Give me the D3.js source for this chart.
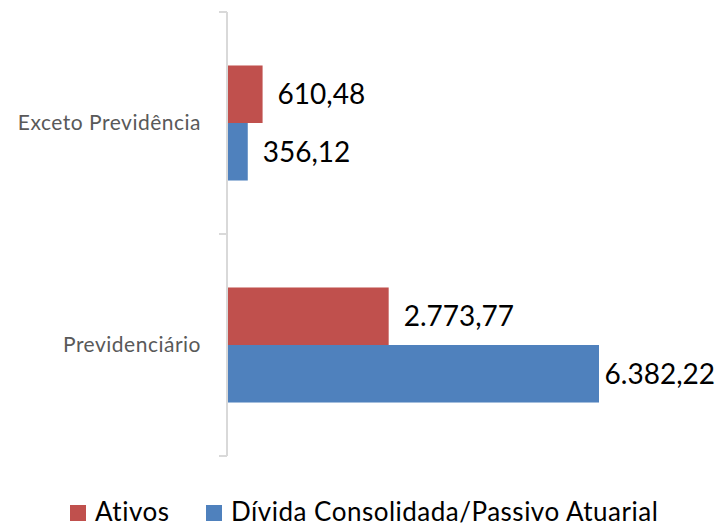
<!DOCTYPE html>
<html>
<head>
<meta charset="utf-8">
<script src="https://cdn.jsdelivr.net/npm/d3@7"></script>
<style>
  body { margin: 0; background: #fff; }
  text { font-family: Lato, "Open Sans", sans-serif; }
</style>
</head>
<body>
<script>
// categorias e séries
var categorias = ["Exceto Previdência", "Previdenciário"]
var series = ["Ativos", "Dívida Consolidada/Passivo Atuarial"]
var ativos = [610.48, 2773.77]
var divida = [356.12, 6382.22]
var rotulos = [["610,48", "356,12"], ["2.773,77", "6.382,22"]]
var cores = ["#C0504D", "#4F81BD"]

var width = 717
var height = 526

var svg = d3.select("body").append("svg")
  .attr("width", width)
  .attr("height", height)

// escalas
var x = d3.scaleLinear()
  .domain([0, 6382.22])
  .range([227, 599])

var y0 = d3.scaleBand()
  .domain(categorias)
  .range([12, 456])
  .padding(0)

var y1 = d3.scaleBand()
  .domain(series)
  .range([0, y0.bandwidth()])
  .paddingInner(0)
  .paddingOuter(0.93)

var cor = d3.scaleOrdinal().domain(series).range(cores)

var dados = categorias.map(function (c, i) {
  return {
    cat: c,
    valores: [
      { serie: series[0], v: ativos[i], rot: rotulos[i][0] },
      { serie: series[1], v: divida[i], rot: rotulos[i][1] }
    ]
  }
})

// barras
var grupos = svg.selectAll("g.grupo")
  .data(dados)
  .enter()
  .append("g")
  .attr("class", "grupo")
  .attr("transform", d => "translate(0," + y0(d.cat) + ")")

grupos.selectAll("rect")
  .data(d => d.valores)
  .enter()
  .append("rect")
  .attr("x", x(0))
  .attr("y", d => y1(d.serie))
  .attr("width", d => x(d.v) - x(0))
  .attr("height", y1.bandwidth())
  .attr("fill", d => cor(d.serie))

// rótulos de dados
grupos.selectAll("text.rot")
  .data(d => d.valores)
  .enter()
  .append("text")
  .attr("class", "rot")
  .attr("y", d => y1(d.serie) + y1.bandwidth() / 2 + 10)
  .attr("font-size", 28)
  .attr("fill", "#000")
  .text(d => d.rot)
  .attr("x", function (d) {
    var w = this.getComputedTextLength()
    return Math.min(x(d.v) + 15, 715 - w)
  })

// eixo vertical
var limites = categorias.map(c => y0(c)).concat([y0.range()[1]])
svg.append("line")
  .attr("x1", x(0)).attr("x2", x(0))
  .attr("y1", y0.range()[0]).attr("y2", y0.range()[1])
  .attr("stroke", "#D9D9D9")
  .attr("stroke-width", 2)
svg.selectAll("line.tick")
  .data(limites)
  .enter()
  .append("line")
  .attr("class", "tick")
  .attr("x1", x(0) - 8).attr("x2", x(0))
  .attr("y1", d => d).attr("y2", d => d)
  .attr("stroke", "#D9D9D9")
  .attr("stroke-width", 2)

var eixoY = d3.axisLeft(y0).tickSize(0).tickPadding(26)
var gEixo = svg.append("g")
  .attr("transform", "translate(" + x(0) + ",0)")
  .call(eixoY)
gEixo.select(".domain").remove()
gEixo.selectAll("text")
  .attr("font-size", 21)
  .attr("font-family", "Lato, sans-serif")
  .attr("letter-spacing", 0.5)
  .attr("fill", "#595959")
  .attr("dy", "0.35em")

// legenda
var legX = [70, 206]
var leg = svg.selectAll("g.leg")
  .data(series)
  .enter()
  .append("g")
  .attr("class", "leg")
  .attr("transform", (d, i) => "translate(" + legX[i] + ",505)")
leg.append("rect")
  .attr("width", 16).attr("height", 16)
  .attr("fill", d => cor(d))
leg.append("text")
  .attr("x", 25)
  .attr("y", 16)
  .attr("font-size", 26)
  .attr("letter-spacing", 0.5)
  .attr("fill", "#000")
  .text(d => d)
</script>
</body>
</html>
